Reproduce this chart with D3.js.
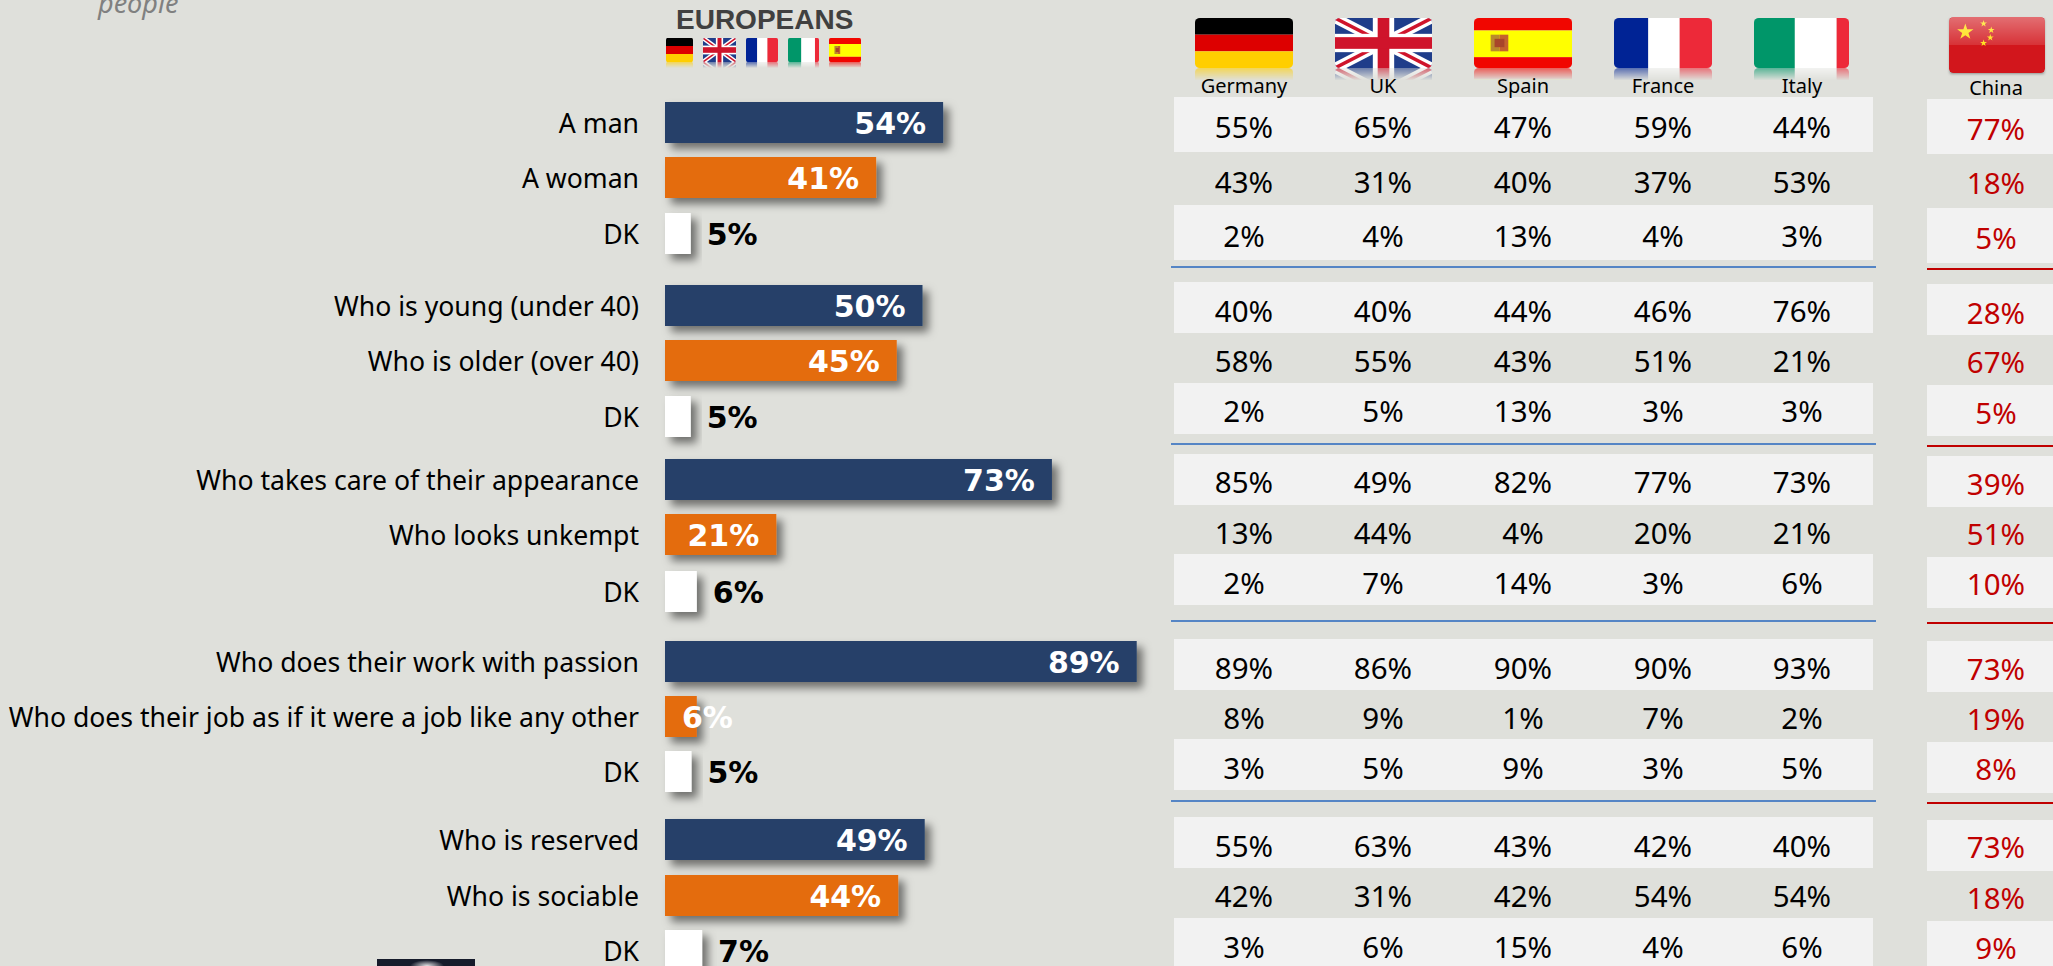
<!DOCTYPE html>
<html><head><meta charset="utf-8">
<script src="https://cdnjs.cloudflare.com/ajax/libs/d3/7.8.5/d3.min.js"></script>
<style>
html,body{margin:0;padding:0;background:#dfe0db;overflow:hidden}
svg{display:block}
text{font-family:"Noto Sans",sans-serif}
</style></head><body>
<script>
// ---- data ----
const categories = ["A man","A woman","DK","Who is young (under 40)","Who is older (over 40)","DK",
  "Who takes care of their appearance","Who looks unkempt","DK","Who does their work with passion",
  "Who does their job as if it were a job like any other","DK","Who is reserved","Who is sociable","DK"];
const europeans = [54,41,5,50,45,5,73,21,6,89,6,5,49,44,7];
const germany = [55,43,2,40,58,2,85,13,2,89,8,3,55,42,3];
const uk      = [65,31,4,40,55,5,49,44,7,86,9,5,63,31,6];
const spain   = [47,40,13,44,43,13,82,4,14,90,1,9,43,42,15];
const france  = [59,37,4,46,51,3,77,20,3,90,7,3,42,54,4];
const italy   = [44,53,3,76,21,3,73,21,6,93,2,5,40,54,6];
const china   = [77,18,5,28,67,5,39,51,10,73,19,8,73,18,9];
const countryNames = ["Germany","UK","Spain","France","Italy"];
const countrySeries = [germany,uk,spain,france,italy];
const seriesColors = ["#254069","#e46c0a","#ffffff"];

// ---- layout ----
const W=2053,H=966;
const rows=d3.range(categories.length);
const barTop=d3.scaleOrdinal(rows,[102,157,213,285,340,396,459,514,571,641,696,751,819,875,930]);
const rowY=d3.scaleOrdinal(rows,[127,182,236,311,361,411,482,533,583,668,718,768,846,896,947]);
const chinaY=d3.scaleOrdinal(rows,[129,183,238,313,362,413,484,534,584,669,719,769,847,898,948]);
const barH=41, x0=665;
const xNarrow=d3.scaleLinear().domain([0,100]).range([x0,x0+515]);
const xWide=d3.scaleLinear().domain([0,100]).range([x0,x0+530]);
const xFor=i=>i<6?xNarrow:xWide;
const colX=d3.scaleOrdinal(countryNames,[1244,1383,1523,1663,1802]);

const svg=d3.select("body").append("svg").attr("width",W).attr("height",H);
svg.append("rect").attr("width",W).attr("height",H).attr("fill","#dfe0db");
const defs=svg.append("defs");
const sh=defs.append("filter").attr("id","shadow").attr("x","-30%").attr("y","-40%").attr("width","170%").attr("height","190%");
sh.append("feDropShadow").attr("dx",6).attr("dy",6).attr("stdDeviation",4).attr("flood-color","#000").attr("flood-opacity",.5);
const flagShadow=defs.append("filter").attr("id","flagShadow").attr("x","-10%").attr("y","-10%").attr("width","120%").attr("height","125%");
flagShadow.append("feDropShadow").attr("dx",0).attr("dy",1.5).attr("stdDeviation",1.5).attr("flood-color","#000").attr("flood-opacity",.45);
const fade=defs.append("linearGradient").attr("id","fade").attr("x1",0).attr("y1",0).attr("x2",0).attr("y2",1);
fade.append("stop").attr("offset",0).attr("stop-color","#fff").attr("stop-opacity",.6);
fade.append("stop").attr("offset",1).attr("stop-color","#fff").attr("stop-opacity",0);
const gloss=defs.append("linearGradient").attr("id","gloss").attr("x1",0).attr("y1",0).attr("x2",0).attr("y2",1);
gloss.append("stop").attr("offset",0).attr("stop-color","#fff").attr("stop-opacity",.38);
gloss.append("stop").attr("offset",.5).attr("stop-color","#fff").attr("stop-opacity",.12);
gloss.append("stop").attr("offset",.5).attr("stop-color","#fff").attr("stop-opacity",0);
const glow=defs.append("radialGradient").attr("id","glow");
glow.append("stop").attr("offset",0).attr("stop-color","#e4e4e6");
glow.append("stop").attr("offset",1).attr("stop-color","#161b2b");
defs.append("clipPath").attr("id","fc").append("rect").attr("width",100).attr("height",60).attr("rx",5);
const rf=defs.append("mask").attr("id","rm").attr("maskContentUnits","userSpaceOnUse");
rf.append("rect").attr("x",0).attr("y",60).attr("width",100).attr("height",15).attr("fill","url(#fade)");

// ---- top fragment ----
svg.append("text").attr("x",98).attr("y",13).attr("font-size",27).attr("font-style","italic").attr("fill","#808080").text("people");
svg.append("text").attr("x",676).attr("y",29).attr("font-size",28).attr("font-weight",700)
  .style("font-family","'Liberation Sans',Arial,sans-serif").attr("fill","#404040").text("EUROPEANS");

// ---- flags ----
function art(g,k){
  const r=(x,y,w,h,f)=>g.append("rect").attr("x",x).attr("y",y).attr("width",w).attr("height",h).attr("fill",f);
  const l=(x1,y1,x2,y2,c,sw)=>g.append("line").attr("x1",x1).attr("y1",y1).attr("x2",x2).attr("y2",y2).attr("stroke",c).attr("stroke-width",sw);
  if(k==="Germany"){r(0,0,100,20,"#000");r(0,20,100,20,"#dd0000");r(0,40,100,20,"#ffce00");}
  if(k==="France"){r(0,0,35,60,"#002395");r(35,0,32,60,"#fff");r(67,0,33,60,"#ed2939");}
  if(k==="Italy"){r(0,0,43,60,"#009669");r(43,0,44,60,"#fff");r(87,0,13,60,"#ed2939");}
  if(k==="Spain"){r(0,0,100,15,"#f10600");r(0,15,100,32,"#ffff00");r(0,47,100,13,"#f10600");
    r(17,20,9,20,"#b98a2c");r(26,20,9,20,"#c4622d");r(21,25,10,10,"#a8452a");}
  if(k==="UK"){r(0,0,100,60,"#1f3d8a");l(0,0,100,60,"#fff",12);l(100,0,0,60,"#fff",12);l(0,0,100,60,"#cf142b",4);l(100,0,0,60,"#cf142b",4);r(39,0,22,60,"#fff");r(0,19,100,22,"#fff");r(44,0,12,60,"#cf142b");r(0,23,100,14,"#cf142b");}
  if(k==="China"){
    r(0,0,100,60,"#d2161c");
    const star=d3.symbol().type(d3.symbolStar);
    g.append("path").attr("d",star.size(90)()).attr("transform","translate(17,16)").attr("fill","#ffde00");
    [[36,7],[44,14],[43,22],[36,28]].forEach(p=>g.append("path").attr("d",star.size(16)()).attr("transform",`translate(${p})`).attr("fill","#ffde00"));
    r(0,0,100,60,"url(#gloss)");
  }
}
function flag(k,x,y,w,h,reflect){
  const g=svg.append("g").attr("transform",`translate(${x},${y}) scale(${w/100},${h/60})`);
  if(reflect){
    const m=g.append("g").attr("mask","url(#rm)");
    const f=m.append("g").attr("transform","translate(0,120) scale(1,-1)").attr("clip-path","url(#fc)");
    art(f,k);
  }
  const c=g.append("g").attr("clip-path","url(#fc)");
  art(c,k);
  return c;
}
const smallFlags=[["Germany",666,27],["UK",703,33],["France",746,32],["Italy",788,31],["Spain",829,32]];
smallFlags.forEach(d=>flag(d[0],d[1],38,d[2],24,true));
const bigFlags=[["Germany",1195,98],["UK",1335,97],["Spain",1474,98],["France",1614,98],["Italy",1754,95]];
bigFlags.forEach(d=>flag(d[0],d[1],18,d[2],50,true));
svg.append("rect").attr("x",1950).attr("y",18).attr("width",94).attr("height",54).attr("fill","#d2161c").attr("filter","url(#flagShadow)");
flag("China",1949,17,96,56,false);

// ---- bars ----
const bars=svg.append("g");
rows.forEach(i=>{
  const x=xFor(i), kind=i%3, cy=barTop(i)+barH/2+1, v=europeans[i];
  svg.append("text").attr("x",639).attr("y",cy).attr("dy","0.35em").attr("text-anchor","end")
    .attr("font-size",26.6).attr("fill","#000").text(categories[i]);
  bars.append("rect").attr("x",x(0)).attr("y",barTop(i)).attr("width",x(v)-x(0)).attr("height",barH)
    .attr("fill",seriesColors[kind]).attr("filter","url(#shadow)");
});
rows.forEach(i=>{
  const x=xFor(i), kind=i%3, cy=barTop(i)+barH/2+1, v=europeans[i];
  const t=svg.append("text").attr("y",cy).attr("dy","0.36em").attr("font-size",30).attr("font-weight",700)
    .style("font-family","'DejaVu Sans',sans-serif").text(v+"%");
  if(kind===2) t.attr("x",x(v)+16).attr("fill","#000");
  else if(v<10) t.attr("x",x(0)+17).attr("fill","#fff");
  else t.attr("x",x(v)-17).attr("text-anchor","end").attr("fill","#fff");
});

// ---- table bands and separators ----
const bandTops=[97,205,282,383,454,554,639,739,817,918];
const bandHeights=[55,55,51,51,51,51,51,51,51,51];
const chinaTops=[99,208,284,385,456,557,641,742,820,921];
const sepY=[267,444,621,801], chinaSepY=[269,446,623,803];
svg.append("g").selectAll("rect").data(bandTops).join("rect").attr("x",1174).attr("width",699)
  .attr("y",d=>d).attr("height",(d,i)=>bandHeights[i]).attr("fill","#f2f2f2");
svg.append("g").selectAll("rect").data(chinaTops).join("rect").attr("x",1927).attr("width",126)
  .attr("y",d=>d).attr("height",(d,i)=>bandHeights[i]).attr("fill","#f2f2f2");
svg.append("g").selectAll("line").data(sepY).join("line").attr("x1",1171).attr("x2",1876)
  .attr("y1",d=>d).attr("y2",d=>d).attr("stroke","#5585c5").attr("stroke-width",2);
svg.append("g").selectAll("line").data(chinaSepY).join("line").attr("x1",1927).attr("x2",2053)
  .attr("y1",d=>d).attr("y2",d=>d).attr("stroke","#c00000").attr("stroke-width",2);

// ---- table text ----
countryNames.forEach((n,c)=>{
  svg.append("text").attr("x",colX(n)).attr("y",86).attr("dy","0.35em").attr("text-anchor","middle")
    .attr("font-size",20).attr("fill","#000").text(n);
  svg.append("g").selectAll("text").data(countrySeries[c]).join("text")
    .attr("x",colX(n)).attr("y",(d,i)=>rowY(i)).attr("dy","0.36em").attr("text-anchor","middle")
    .attr("font-size",29.5).attr("fill","#000").text(d=>d+"%");
});
svg.append("text").attr("x",1996).attr("y",88).attr("dy","0.35em").attr("text-anchor","middle")
  .attr("font-size",20).attr("fill","#000").text("China");
svg.append("g").selectAll("text").data(china).join("text")
  .attr("x",1996).attr("y",(d,i)=>chinaY(i)).attr("dy","0.36em").attr("text-anchor","middle")
  .attr("font-size",29.5).attr("fill","#c00000").text(d=>d+"%");

// ---- logo fragment at the bottom edge ----
svg.append("rect").attr("x",377).attr("y",959).attr("width",98).attr("height",7).attr("fill","#161b2b");
svg.append("ellipse").attr("cx",427).attr("cy",966).attr("rx",17).attr("ry",6).attr("fill","url(#glow)");
</script>
</body></html>
